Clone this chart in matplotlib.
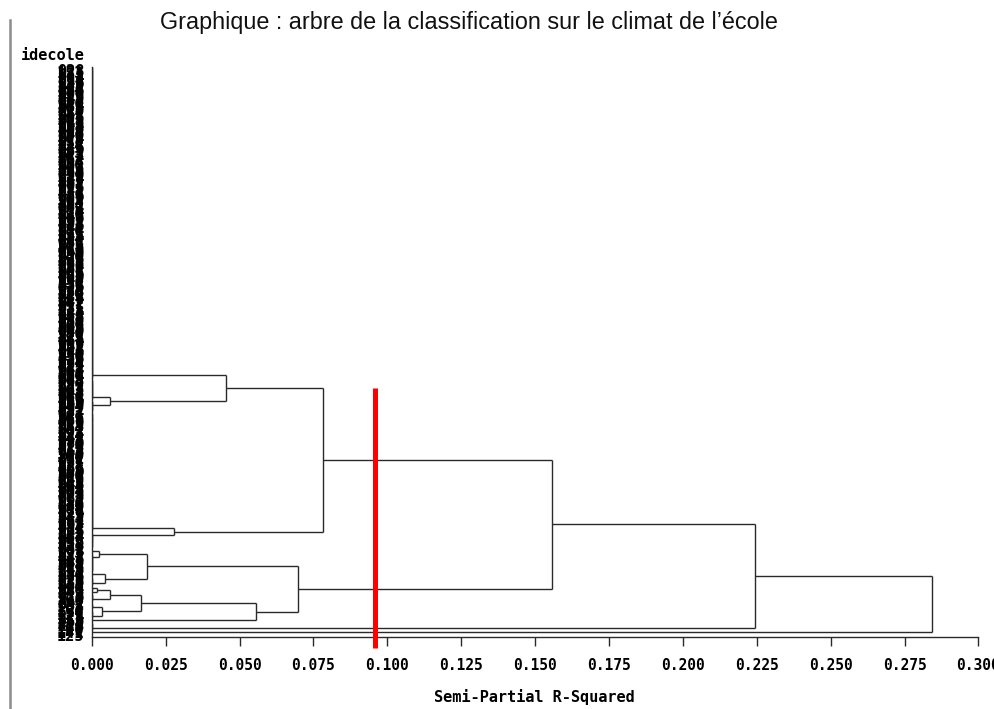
import matplotlib
matplotlib.use('Agg')
import matplotlib.pyplot as plt
import numpy as np
from matplotlib.lines import Line2D
from matplotlib.collections import LineCollection
from matplotlib.transforms import blended_transform_factory

# school ids, in the order they appear on the tree (top to bottom)
idecole = """
028 153 071 204 017 096 230 142 055 188 009 117 249 063 176 034 101 219 082 145
006 167 241 049 128 090 213 038 159 074 198 012 134 226 059 183 021 107 252 087
150 003 195 066 238 119 044 171 092 207 015 138 077 256 030 162 113 201 052 185
024 126 243 069 155 098 216 041 180 011 132 084 222 057 173 105 019 246 093 140
036 191 061 229 115 002 165 079 209 047 136 253 026 178 088 120 233 014 157 072
197 031 111 244 058 148 085 218 007 169 099 040 186 123 235 064 010 151 203 076
045 130 258 020 174 094 211 053 161 116 004 189 068 227 139 033 103 248 081 166
016 200 060 144 091 237 027 181 109 050 220 073 154 001 192 124 042 255 086 170
013 212 065 147 100 232 037 177 118 056 206 080 160 022 240 131 046 194 095 164
005 225 067 152 110 039 184 078 214 029 143 251 062 172 097 018 205 122 054 187
035 158 075 231 008 193 127 048 217 089 168 025 245 112 043 179 070 236 135 051
199 083 149 023 210 106 242 032 163 102 190 121 224 137 250 114 223 108 129 141
125
""".split()

# groups of schools with identical profiles (merged at R2 = 0): ('b', size, how they chain)
# nodes: ('n', semi-partial R2, upper child, lower child)
tree = ('n', 0.2843,
        ('n', 0.2244,
         ('n', 0.1557,
          ('n', 0.0784,
           ('n', 0.0453, ('b', 133, 'down'),
            ('n', 0.0062, ('b', 9, 'down'), ('b', 5, 'mid'))),
           ('n', 0.0278, ('b', 51, 'down'), ('b', 7, 'up'))),
          ('n', 0.0699,
           ('n', 0.0188,
            ('n', 0.0026, ('b', 2, 'mid'), ('b', 8, 'up')),
            ('n', 0.0046, ('b', 2, 'mid'), ('b', 4, 'down'))),
           ('n', 0.0556,
            ('n', 0.0166,
             ('n', 0.0063,
              ('n', 0.0017, ('b', 2, 'mid'), ('b', 1, 'mid')),
              ('b', 4, 'down')),
             ('n', 0.0035, ('b', 3, 'down'), ('b', 4, 'down'))),
            ('b', 1, 'mid')))),
         ('b', 4, 'down')),
        ('b', 1, 'mid'))

# cut of the tree drawn in red
cut_height = 0.096
cut_span = (136.5, 247.0)

segs = []

def tie_pos(idx, mode):
    # schools merged at height 0
    if len(idx) == 1:
        return idx[0]
    if mode == 'mid':
        k = len(idx) // 2
        a = tie_pos(idx[:k], mode)
        b = tie_pos(idx[k:], mode)
        segs.append([(0, a), (0, b)])
        return (a + b) / 2
    order = idx if mode == 'down' else idx[::-1]
    p = order[0]
    for i in order[1:]:
        segs.append([(0, p), (0, i)])
        p = (p + i) / 2
    return p

def layout(node, nxt):
    if node[0] == 'b':
        n, mode = node[1], node[2]
        idx = list(range(nxt, nxt + n))
        return tie_pos(idx, mode), 0.0, nxt + n
    _, h, left, right = node
    pl, hl, nxt = layout(left, nxt)
    pr, hr, nxt = layout(right, nxt)
    segs.append([(hl, pl), (h, pl)])
    segs.append([(h, pl), (h, pr)])
    segs.append([(h, pr), (hr, pr)])
    return (pl + pr) / 2, h, nxt

fig = plt.figure(figsize=(9.95, 7.09), dpi=100)
ax = fig.add_axes([0.0922, 0.1020, 0.8912, 0.8035])

root_pos, root_h, nleaf = layout(tree, 0)
ax.add_collection(LineCollection(segs, colors='#2a2a2a', linewidths=1.0))

# red cut line
ax.plot([cut_height, cut_height], list(cut_span), color='#ff0000', lw=3.6,
        solid_capstyle='butt', clip_on=False, zorder=5)

ax.set_xlim(0, 0.3)
ax.set_ylim(242.0, 0)

ticks = [0.0, 0.025, 0.05, 0.075, 0.1, 0.125, 0.15, 0.175, 0.2, 0.225, 0.25, 0.275, 0.3]
ax.set_xticks(ticks)
ax.set_xticklabels(['%.3f' % t for t in ticks], family='DejaVu Sans Mono',
                   fontweight='bold', fontsize=10.5)
ax.tick_params(axis='x', direction='out', length=6.5, width=1.0, pad=9, color='#2a2a2a')
ax.tick_params(axis='y', left=False, labelleft=False)
for s in ['top', 'right']:
    ax.spines[s].set_visible(False)
for s in ['left', 'bottom']:
    ax.spines[s].set_color('#2a2a2a')
    ax.spines[s].set_linewidth(1.0)

# leaf labels (they pile up, as in the SAS output)
trans = blended_transform_factory(ax.transAxes, ax.transData)
for i, lab in enumerate(idecole):
    ax.text(-0.0085, i + 1.8, lab, transform=trans, ha='right', va='center',
            fontsize=11, fontweight='bold', family='DejaVu Sans Mono', clip_on=False)

fig.text(85 / 995, 1 - 55 / 709, 'idecole', ha='right', va='center',
         fontsize=11, fontweight='bold', family='DejaVu Sans Mono')
fig.text(534 / 995, 1 - 697 / 709, 'Semi-Partial R-Squared', ha='center', va='center',
         fontsize=11, fontweight='bold', family='DejaVu Sans Mono')
fig.text(469 / 995, 1 - 23 / 709,
         "Graphique : arbre de la classification sur le climat de l\u2019\u00e9cole",
         ha='center', va='center', fontsize=16.8, color='#111111',
         family=['Liberation Sans', 'DejaVu Sans'])

# page border on the left
fig.add_artist(Line2D([9.5 / 995, 9.5 / 995], [0, 1 - 20 / 709], transform=fig.transFigure,
                      color='#8c8c8c', lw=1.8))

fig.savefig('out.png', dpi=100)
